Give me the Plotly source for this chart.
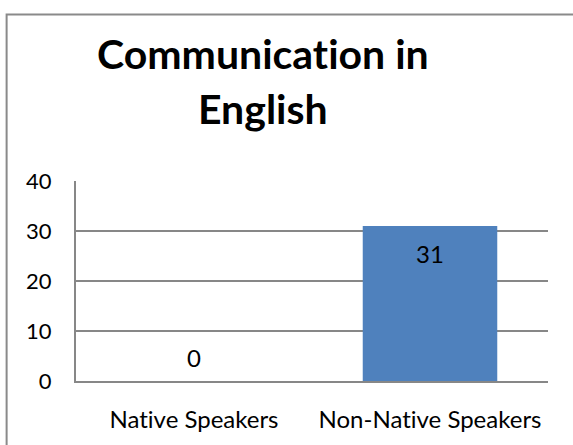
import plotly.graph_objects as go

# Survey counts for communication in English
categories = ["Native Speakers", "Non-Native Speakers"]
values = [0, 31]
y_ticks = [0, 10, 20, 30, 40]
title_lines = ["Communication in", "English"]

BAR_COLOR = "#4F81BD"
GRID_COLOR = "#878787"
FONT = "Lato"


def no_ligature(s):
    # zero-width non-joiner keeps Lato from fusing "ti" into a ligature
    return s.replace("ti", "t\u200ci")


fig = go.Figure(
    go.Bar(
        x=categories,
        y=values,
        marker=dict(color=BAR_COLOR, line=dict(width=0)),
        hoverinfo="skip",
    )
)

# value labels: inside the top of each bar, or just above the axis for empty bars
for cat, val in zip(categories, values):
    if val > 0:
        fig.add_annotation(x=cat, y=val, text=str(val), showarrow=False,
                           yanchor="top", yshift=-11,
                           font=dict(family=FONT, size=24, color="black"))
    else:
        fig.add_annotation(x=cat, y=val, text=str(val), showarrow=False,
                           yanchor="bottom", yshift=7,
                           font=dict(family=FONT, size=24, color="black"))

# two-line bold chart title
for line, ypos in zip(title_lines, [1.64, 1.36]):
    fig.add_annotation(xref="paper", yref="paper", x=0.396, y=ypos,
                       text=f"<b>{no_ligature(line)}</b>", showarrow=False,
                       xanchor="center", yanchor="middle",
                       font=dict(family=FONT, size=41, color="black"))

# outer chart frame
fig.add_shape(type="rect", xref="paper", yref="paper",
              x0=-0.147, x1=1.08, y0=-0.36, y1=1.833,
              line=dict(color="#8a8a8a", width=2), fillcolor="rgba(0,0,0,0)",
              layer="below")

fig.update_layout(
    width=573, height=445,
    margin=dict(l=76, r=25, t=181, b=60),
    paper_bgcolor="white", plot_bgcolor="white",
    bargap=0.43,
    showlegend=False,
    font=dict(family=FONT, size=24, color="black"),
)

fig.update_xaxes(
    showline=True, linecolor=GRID_COLOR, linewidth=2,
    ticks="", ticklabelstandoff=16,
    tickvals=categories, ticktext=[no_ligature(c) for c in categories],
    tickfont=dict(family=FONT, size=24, color="black"),
)
fig.update_yaxes(
    range=[0, 40], tickvals=y_ticks,
    showgrid=True, gridcolor=GRID_COLOR, gridwidth=2,
    showline=True, linecolor=GRID_COLOR, linewidth=2,
    zeroline=False, ticks="", ticklabelstandoff=18,
    tickfont=dict(family=FONT, size=22, color="black"),
)

fig.write_html("out.html")
